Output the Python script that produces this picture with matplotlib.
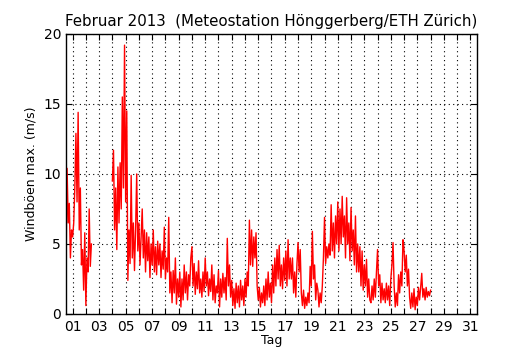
import numpy as np
import matplotlib
matplotlib.use("Agg")
import matplotlib.pyplot as plt

nan = np.nan

# Windböen, 2-stündlich ab 1. Feb 00:00 (x = 0.5)
feb01 = [2.9, 10.4, 6.5, 7.9, 4.0, 6.0, 5.5, 6.5, 9.0, 12.9, 8.0, 14.4]
feb02 = [6.0, 9.0, 3.5, 4.6, 1.7, 5.8, 0.6, 4.0, 3.0, 7.5, 3.4, 5.0]
feb03 = [nan] * 12
feb04 = [nan] * 6 + [9.5, 11.7, 6.0, 9.0, 4.6, 10.5]
feb05 = [6.5, 10.8, 7.5, 15.5, 9.0, 19.2, 8.0, 14.5, 2.4, 6.0, 3.6, 9.9]
feb06 = [4.0, 6.5, 3.1, 6.0, 10.0, 4.5, 6.5, 3.5, 5.5, 7.5, 4.0, 6.0]
feb07 = [3.0, 5.8, 3.8, 5.5, 2.6, 5.0, 3.5, 6.0, 3.0, 4.8, 2.8, 5.2]
feb08 = [3.5, 5.0, 2.6, 4.5, 3.2, 6.2, 2.5, 4.0, 3.0, 6.9, 1.5, 3.0]
feb09 = [0.8, 3.1, 1.5, 4.0, 0.7, 2.5, 1.2, 3.0, 0.5, 2.5, 1.0, 3.5]
feb10 = [1.5, 3.0, 1.0, 2.8, 2.0, 4.0, 4.8, 2.0, 3.6, 1.4, 3.0, 1.8]
feb11 = [3.8, 1.5, 2.5, 1.2, 3.0, 1.6, 4.0, 2.0, 3.0, 1.3, 2.5, 1.6]
feb12 = [3.5, 1.0, 2.8, 0.8, 2.0, 1.5, 3.1, 0.5, 2.5, 1.2, 2.9, 1.5]
feb13 = [2.6, 1.0, 5.4, 2.0, 3.5, 1.2, 2.4, 0.6, 1.8, 0.4, 2.2, 0.8]
feb14 = [2.0, 0.5, 2.4, 1.0, 2.0, 0.6, 2.5, 1.2, 3.0, 2.0, 6.7, 3.5]
feb15 = [6.0, 3.4, 5.5, 4.0, 5.8, 2.0, 1.0, 1.9, 0.5, 1.5, 0.8, 2.0]
feb16 = [0.6, 2.5, 1.0, 3.0, 1.2, 2.2, 0.8, 3.5, 1.5, 4.0, 2.0, 4.6]
feb17 = [2.5, 4.9, 2.0, 3.5, 1.8, 4.0, 2.4, 4.5, 2.0, 5.3, 2.5, 4.0]
feb18 = [2.5, 4.0, 1.5, 3.0, 1.2, 3.5, 5.1, 3.0, 4.6, 1.5, 0.6, 1.7]
feb19 = [0.4, 1.2, 0.6, 1.5, 0.8, 3.4, 2.0, 5.9, 2.5, 3.5, 1.0, 2.2]
feb20 = [1.7, 0.5, 1.5, 0.8, 2.0, 4.0, 6.9, 3.6, 4.8, 4.0, 5.0, 4.2]
feb21 = [7.8, 4.5, 6.5, 4.0, 7.0, 5.0, 8.0, 4.5, 7.5, 5.0, 8.4, 5.5]
feb22 = [7.0, 4.0, 8.3, 5.0, 6.5, 3.8, 7.6, 4.5, 6.0, 3.5, 7.0, 3.0]
feb23 = [5.0, 3.0, 4.8, 2.0, 4.5, 1.7, 3.5, 2.0, 3.9, 1.2, 2.5, 1.0]
feb24 = [0.8, 2.0, 1.0, 2.5, 1.2, 3.0, 4.6, 2.0, 2.8, 0.8, 2.2, 1.0]
feb25 = [1.8, 0.8, 2.2, 1.0, 2.0, 0.6, 2.5, 3.5, 5.1, 2.0, 0.5, 1.5]
feb26 = [0.6, 2.8, 1.5, 3.0, 2.0, 5.3, 4.5, 3.0, 4.2, 2.0, 3.2, 1.2]
feb27 = [0.4, 1.5, 0.5, 1.8, 0.3, 1.2, 0.6, 1.9, 1.0, 1.9, 2.9, 1.2]
feb28 = [1.8, 1.0, 1.9, 1.2, 1.6, 1.3, 1.7]

days = [feb01, feb02, feb03, feb04, feb05, feb06, feb07, feb08, feb09, feb10,
        feb11, feb12, feb13, feb14, feb15, feb16, feb17, feb18, feb19, feb20,
        feb21, feb22, feb23, feb24, feb25, feb26, feb27, feb28]
wind = np.array([v for d in days for v in d])
t = 0.5 + np.arange(len(wind)) / 12.0

tick_days = list(range(1, 32))
tick_labels = ["%02d" % d if d % 2 == 1 else "" for d in tick_days]

fig = plt.figure(figsize=(5.3, 3.5), dpi=100)
ax = fig.add_axes([0.1245, 0.103, 0.7755, 0.8])
ax.plot(t, wind, color="red", linewidth=1.0)

ax.set_xlim(0.5, 31.5)
ax.set_ylim(0, 20)
ax.set_xticks(tick_days)
ax.set_xticklabels(tick_labels)
ax.set_yticks([0, 5, 10, 15, 20])
ax.tick_params(direction="in", top=True, right=True, length=4, labelsize=10)
ax.tick_params(axis="x", pad=4)
ax.grid(True, color="black", linestyle=(0, (1, 3)), linewidth=0.8)
for s in ax.spines.values():
    s.set_linewidth(1.0)

ax.set_xlabel("Tag", fontsize=9, labelpad=0)
ax.set_ylabel("Windböen max. (m/s)", fontsize=9)
ax.set_title("Februar 2013  (Meteostation Hönggerberg/ETH Zürich)", fontsize=10.8)

fig.savefig("out.png", dpi=100)
